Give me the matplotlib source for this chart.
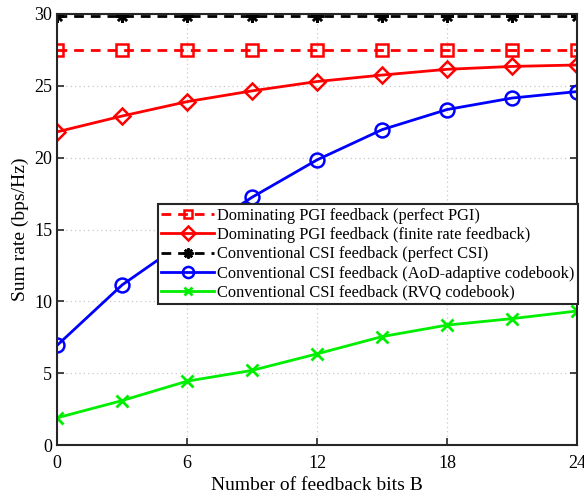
import matplotlib
matplotlib.use("Agg")
import matplotlib.pyplot as plt
import numpy as np

plt.rcParams['font.family'] = ['Liberation Serif', 'DejaVu Serif']
plt.rcParams['mathtext.fontset'] = 'stix'

# feedback bits B
bits = [0, 3, 6, 9, 12, 15, 18, 21, 24]

# sum rate (bps/Hz)
pgi_perfect = [27.5, 27.5, 27.5, 27.5, 27.5, 27.5, 27.5, 27.5, 27.5]
pgi_finite = [21.8, 22.9, 23.9, 24.65, 25.3, 25.75, 26.15, 26.35, 26.45]
csi_perfect = [29.85, 29.85, 29.85, 29.85, 29.85, 29.85, 29.85, 29.85, 29.85]
csi_aod = [6.95, 11.15, 14.3, 17.25, 19.85, 21.95, 23.35, 24.15, 24.6]
csi_rvq = [1.9, 3.1, 4.45, 5.2, 6.35, 7.55, 8.35, 8.8, 9.33]

labels = ['Dominating PGI feedback (perfect PGI)',
          'Dominating PGI feedback (finite rate feedback)',
          'Conventional CSI feedback (perfect CSI)',
          'Conventional CSI feedback (AoD-adaptive codebook)',
          'Conventional CSI feedback (RVQ codebook)']

fig = plt.figure(figsize=(5.84, 4.99), dpi=100)
ax = fig.add_axes([0.098, 0.108, 0.89, 0.864])

ax.plot(bits, pgi_perfect, color='#ff0000', ls=(0, (3.5, 2.5)), lw=2, marker='s',
        ms=8, mfc='none', mew=1.8, label=labels[0])
ax.plot(bits, pgi_finite, color='#ff0000', lw=2, marker='D', ms=8.5, mfc='none',
        mew=1.8, label=labels[1])
ax.plot(bits, csi_perfect, color='black', ls=(0, (3.5, 2.5)), lw=2, marker=(8, 2, 0),
        ms=9, mew=1.8, label=labels[2])
ax.plot(bits, csi_aod, color='#0000ff', lw=2, marker='o', ms=10, mfc='none',
        mew=1.8, label=labels[3])
ax.plot(bits, csi_rvq, color='#00ee00', lw=2, marker='x', ms=8, mew=2,
        label=labels[4])

ax.set_xlim(0, 24)
ax.set_ylim(0, 30)
ax.set_xticks(range(0, 25, 6))
ax.set_yticks(range(0, 31, 5))
ax.grid(True, color='#c8c8c8', ls=(0, (1, 2.5)), lw=0.9)
ax.tick_params(direction='in', top=True, right=True, labelsize=13,
               length=5, width=1.2, colors='#262626', labelcolor='black')
ax.tick_params(axis='x', pad=7)
for s in ax.spines.values():
    s.set_linewidth(1.5)
    s.set_color('#262626')

ax.set_xlabel('Number of feedback bits B', fontsize=14, labelpad=4)
ax.set_ylabel('Sum rate (bps/Hz)', fontsize=14, labelpad=4)

leg = ax.legend(loc='upper right', bbox_to_anchor=(1.002, 0.559), fontsize=11.8,
                handlelength=3.2, handletextpad=0.2, labelspacing=0.2,
                borderpad=0.22, borderaxespad=0, fancybox=False, framealpha=1,
                markerscale=0.8)
leg.get_frame().set_edgecolor('#262626')
leg.get_frame().set_linewidth(1.5)

fig.savefig('out.png', dpi=100)
